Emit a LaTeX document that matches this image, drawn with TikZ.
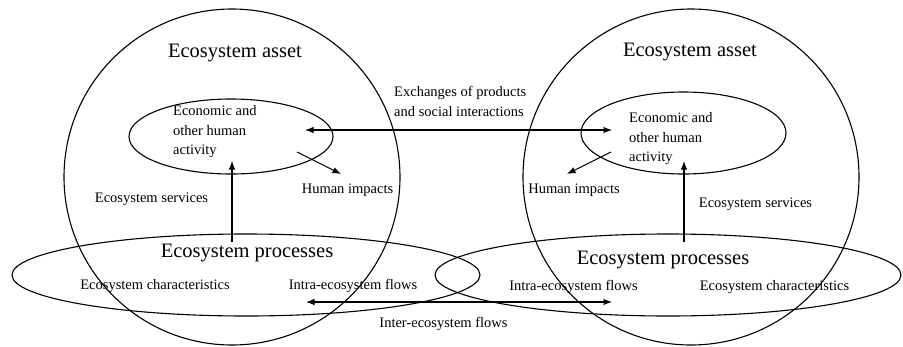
\documentclass[tikz,border=0pt]{standalone}
\usepackage{fontspec}
\setmainfont{Liberation Serif}
\usetikzlibrary{shapes.geometric,arrows.meta}
\newlength{\du}
\setlength{\du}{1pt}
\tikzset{
  ring/.style={draw, circle, inner sep=0pt, minimum size=336\du, line width=1.1pt},
  oval/.style={draw, ellipse, inner sep=0pt, line width=1.1pt},
  bigtext/.style={inner sep=0pt, font=\fontsize{20.5}{24}\selectfont},
  smalltext/.style={inner sep=0pt, font=\fontsize{14.5}{19.5}\selectfont},
  oneway/.style={line width=1.1pt, -{Latex[length=8.5pt,width=6.5pt]}},
  twoway/.style={line width=1.1pt, {Latex[length=8.5pt,width=6.5pt]}-{Latex[length=8.5pt,width=6.5pt]}},
}
\begin{document}
\begin{tikzpicture}
\pgftransformxscale{1.000000}
\pgftransformyscale{-1.000000}
\useasboundingbox (0\du,0\du) rectangle (903\du,346\du);
% ecosystem assets
\node[ring] (assetL) at (232\du,177\du) {};
\node[ring] (assetR) at (691\du,177\du) {};
\node[bigtext] (assetLtext) at (235\du,53\du) {Ecosystem asset};
\node[bigtext] (assetRtext) at (690\du,52\du) {Ecosystem asset};
% human activity
\node[oval, minimum width=204\du, minimum height=75\du] (activityL) at (231\du,136.5\du) {};
\node[oval, minimum width=205\du, minimum height=82\du] (activityR) at (683.5\du,133\du) {};
\node[smalltext, anchor=west, align=left] (activityLtext) at (173\du,132\du) {Economic and\\other human\\activity};
\node[smalltext, anchor=west, align=left] (activityRtext) at (629\du,139\du) {Economic and\\other human\\activity};
% ecosystem processes
\node[oval, minimum width=468\du, minimum height=82\du] (processL) at (246\du,275\du) {};
\node[oval, minimum width=466\du, minimum height=82\du] (processR) at (668\du,275\du) {};
\node[bigtext] (processLtext) at (247\du,253\du) {Ecosystem processes};
\node[bigtext] (processRtext) at (663\du,260\du) {Ecosystem processes};
\node[smalltext] (charL) at (155\du,286\du) {Ecosystem characteristics};
\node[smalltext] (charR) at (774.5\du,287\du) {Ecosystem characteristics};
\node[smalltext] (intraL) at (353\du,286\du) {Intra-ecosystem flows};
\node[smalltext] (intraR) at (573.5\du,287\du) {Intra-ecosystem flows};
\node[smalltext] (inter) at (443.5\du,324\du) {Inter-ecosystem flows};
% other labels
\node[smalltext] (servL) at (151.5\du,199\du) {Ecosystem services};
\node[smalltext] (servR) at (755.5\du,204\du) {Ecosystem services};
\node[smalltext] (impL) at (347.5\du,190\du) {Human impacts};
\node[smalltext] (impR) at (574\du,190\du) {Human impacts};
\node[smalltext, anchor=west, align=left] (exch) at (394\du,101.5\du) {Exchanges of products\\and social interactions};
% arrows
\coordinate (exchL) at (305\du,130\du);
\coordinate (exchR) at (612\du,130\du);
\draw[twoway] (exchL) -- (exchR);
\coordinate (interL) at (306\du,302\du);
\coordinate (interR) at (612\du,302\du);
\draw[twoway] (interL) -- (interR);
\coordinate (servLfrom) at (232\du,242\du);
\coordinate (servLto) at (232\du,161\du);
\draw[oneway] (servLfrom) -- (servLto);
\coordinate (servRfrom) at (684\du,242\du);
\coordinate (servRto) at (684\du,161\du);
\draw[oneway] (servRfrom) -- (servRto);
\coordinate (impLfrom) at (297\du,152\du);
\coordinate (impLto) at (341\du,174\du);
\draw[oneway] (impLfrom) -- (impLto);
\coordinate (impRfrom) at (611\du,152\du);
\coordinate (impRto) at (567\du,174\du);
\draw[oneway] (impRfrom) -- (impRto);
\end{tikzpicture}
\end{document}
